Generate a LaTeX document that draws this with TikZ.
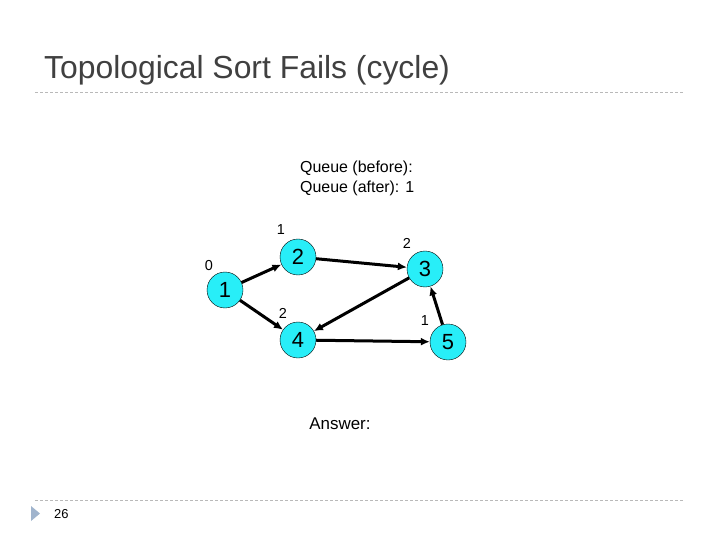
\documentclass[tikz,border=0pt]{standalone}
\usepackage{fontspec}
\setmainfont{Liberation Sans}
\usetikzlibrary{arrows.meta}
\definecolor{nodecyan}{RGB}{40,238,248}
\definecolor{rulegray}{RGB}{185,185,185}
\definecolor{bulletblue}{RGB}{160,180,205}
\definecolor{titlegray}{RGB}{64,64,64}

\tikzset{
  vertex/.style={circle, draw=black, fill=nodecyan, minimum size=36bp, inner sep=0pt, font=\fontsize{22}{22}\selectfont},
  degree/.style={font=\fontsize{14.5}{14.5}\selectfont},
  edge/.style={-{Latex[length=9bp,width=8bp]}, line width=3bp},
  rule/.style={rulegray, dashed, dash pattern=on 3bp off 2bp, line width=0.7bp}
}

\begin{document}
\begin{tikzpicture}[x=1bp, y=-1bp]
  \useasboundingbox (0,0) rectangle (720,540);

  % slide title and rules
  \node[anchor=base west, text=titlegray, font=\fontsize{32}{32}\selectfont, inner sep=0pt] (title) at (44,79) {Topological Sort Fails (cycle)};
  \draw[rule] (35,92) -- (685,92);
  \draw[rule] (35,500) -- (685,500);

  % page number
  \fill[bulletblue] (31,506) -- (40,513.5) -- (31,521) -- cycle;
  \node[anchor=base west, font=\fontsize{13}{13}\selectfont, inner sep=0pt] (pagenum) at (54,518) {26};

  % queue text
  \node[anchor=north west, align=left, font=\fontsize{16}{20}\selectfont, inner sep=0pt] (queue) at (300,161) {Queue (before):\\Queue (after): 1};

  % vertices
  \node[vertex] (v1) at (225,290) {1};
  \node[vertex] (v2) at (298,257) {2};
  \node[vertex] (v3) at (425,269) {3};
  \node[vertex] (v4) at (298,340) {4};
  \node[vertex] (v5) at (448,342) {5};

  % in-degrees
  \node[degree] (d1) at (209,266) {0};
  \node[degree] (d2) at (281,230) {1};
  \node[degree] (d3) at (407,243) {2};
  \node[degree] (d4) at (283,313) {2};
  \node[degree] (d5) at (425,321) {1};

  % edges
  \draw[edge] (v1) -- (v2);
  \draw[edge] (v1) -- (v4);
  \draw[edge] (v2) -- (v3);
  \draw[edge] (v3) -- (v4);
  \draw[edge] (v4) -- (v5);
  \draw[edge] (v5) -- (v3);

  \node[font=\fontsize{17}{17}\selectfont] (answer) at (340,424) {Answer:};
\end{tikzpicture}
\end{document}
